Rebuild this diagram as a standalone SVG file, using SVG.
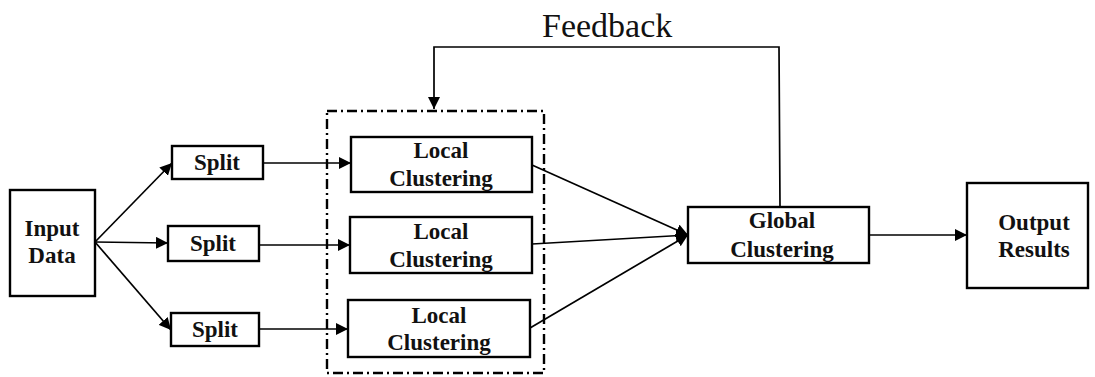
<svg xmlns="http://www.w3.org/2000/svg" width="1095" height="377" viewBox="0 0 1095 377">
<style>
.box{fill:#fff;stroke:#000;stroke-width:2.4}
.t{font-family:"Liberation Serif","Times New Roman",serif;font-weight:bold;font-size:23px;text-anchor:middle;fill:#111}
.ln{fill:none;stroke:#000;stroke-width:1.7}
.fb{font-family:"Liberation Serif","Times New Roman",serif;font-size:34px;fill:#111}
</style>
<defs>
<marker id="ah" viewBox="0 0 10 10" refX="10" refY="5" markerWidth="12" markerHeight="12" markerUnits="userSpaceOnUse" orient="auto">
<path d="M0,0 L10,5 L0,10 z" fill="#000"/>
</marker>
</defs>
<g id="group-box">
<rect x="327" y="111" width="217" height="262" fill="none" stroke="#000" stroke-width="2.4" stroke-dasharray="10,4,2,4"/>
</g>
<g id="connectors">
<line class="ln" x1="95" y1="242" x2="172" y2="163" marker-end="url(#ah)"/>
<line class="ln" x1="95" y1="242" x2="168" y2="243" marker-end="url(#ah)"/>
<line class="ln" x1="95" y1="242" x2="171" y2="330" marker-end="url(#ah)"/>
<line class="ln" x1="257" y1="163" x2="351" y2="163" marker-end="url(#ah)"/>
<line class="ln" x1="259" y1="245" x2="350" y2="245" marker-end="url(#ah)"/>
<line class="ln" x1="259" y1="329" x2="348" y2="329" marker-end="url(#ah)"/>
<line class="ln" x1="532" y1="165" x2="688" y2="235" marker-end="url(#ah)"/>
<line class="ln" x1="532" y1="244" x2="688" y2="235" marker-end="url(#ah)"/>
<line class="ln" x1="530" y1="328" x2="688" y2="235" marker-end="url(#ah)"/>
<line class="ln" x1="869" y1="235" x2="967" y2="235" marker-end="url(#ah)"/>
<polyline class="ln" points="780,207 779,47 434,47 434,109" stroke-width="2.4" marker-end="url(#ah)"/>
<text class="fb" x="542" y="37">Feedback</text>
</g>
<g id="input-data">
<rect class="box" x="10" y="190" width="85" height="106"/>
<text class="t" x="52" y="236">Input</text>
<text class="t" x="52" y="263">Data</text>
</g>
<g id="split-1">
<rect class="box" x="172" y="146" width="91" height="33"/>
<text class="t" x="217" y="170">Split</text>
</g>
<g id="split-2">
<rect class="box" x="168" y="226" width="91" height="35"/>
<text class="t" x="213" y="251">Split</text>
</g>
<g id="split-3">
<rect class="box" x="171" y="313" width="88" height="33"/>
<text class="t" x="215" y="337">Split</text>
</g>
<g id="local-1">
<rect class="box" x="351" y="137" width="181" height="55"/>
<text class="t" x="441" y="158">Local</text>
<text class="t" x="441" y="186">Clustering</text>
</g>
<g id="local-2">
<rect class="box" x="350" y="217" width="182" height="56"/>
<text class="t" x="441" y="239">Local</text>
<text class="t" x="441" y="267">Clustering</text>
</g>
<g id="local-3">
<rect class="box" x="348" y="300" width="182" height="57"/>
<text class="t" x="439" y="323">Local</text>
<text class="t" x="439" y="350">Clustering</text>
</g>
<g id="global">
<rect class="box" x="688" y="207" width="181" height="56"/>
<text class="t" x="782" y="228">Global</text>
<text class="t" x="782" y="257">Clustering</text>
</g>
<g id="output">
<rect class="box" x="967" y="183" width="121" height="105"/>
<text class="t" x="1034" y="230">Output</text>
<text class="t" x="1034" y="257">Results</text>
</g>
</svg>
